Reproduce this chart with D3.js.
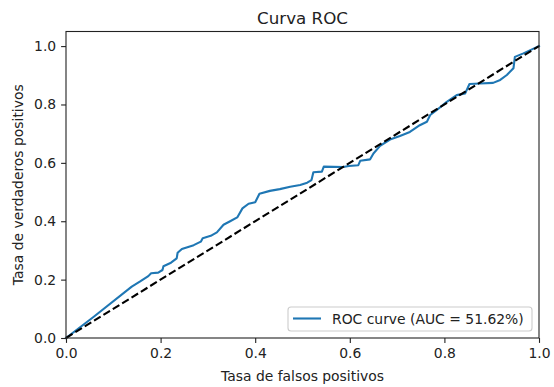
<!DOCTYPE html>
<html>
<head>
<meta charset="utf-8">
<script src="https://cdn.jsdelivr.net/npm/d3@7"></script>
<style>
  html, body { margin: 0; padding: 0; background: #fff; }
  svg { display: block; font-family: "DejaVu Sans", sans-serif; }
</style>
</head>
<body>
<svg id="chart" width="554" height="387"></svg>
<script>
// ROC curve vertices: false positive rate / true positive rate
const fpr = [0, 0.058, 0.139, 0.156, 0.174, 0.180, 0.195, 0.204, 0.206, 0.222, 0.234, 0.236, 0.245, 0.260, 0.270, 0.285, 0.289, 0.306, 0.319, 0.333, 0.347, 0.362, 0.373, 0.386, 0.400, 0.409, 0.431, 0.452, 0.474, 0.495, 0.510, 0.519, 0.523, 0.541, 0.545, 0.586, 0.598, 0.618, 0.622, 0.643, 0.650, 0.664, 0.685, 0.706, 0.727, 0.748, 0.763, 0.770, 0.784, 0.805, 0.826, 0.844, 0.853, 0.875, 0.903, 0.918, 0.932, 0.946, 0.949, 0.967, 1];
const tpr = [0, 0.072, 0.176, 0.193, 0.212, 0.222, 0.224, 0.233, 0.246, 0.258, 0.273, 0.292, 0.305, 0.313, 0.318, 0.330, 0.342, 0.350, 0.362, 0.388, 0.400, 0.413, 0.444, 0.460, 0.465, 0.494, 0.504, 0.510, 0.518, 0.524, 0.532, 0.541, 0.568, 0.570, 0.587, 0.586, 0.589, 0.592, 0.607, 0.612, 0.632, 0.658, 0.680, 0.692, 0.706, 0.729, 0.741, 0.764, 0.781, 0.809, 0.832, 0.838, 0.870, 0.872, 0.874, 0.884, 0.901, 0.924, 0.963, 0.975, 1];
// chance diagonal
const diagX = [0, 1];
const diagY = [0, 1];
const aucPercent = 51.62;
const xTicks = [0, 0.2, 0.4, 0.6, 0.8, 1.0];
const yTicks = [0, 0.2, 0.4, 0.6, 0.8, 1.0];

const svg = d3.select("#chart");
const plotLeft = 66, plotRight = 539, plotTop = 31.5, plotBottom = 338;

const x = d3.scaleLinear().domain([0, 1]).range([plotLeft, plotRight]);
const y = d3.scaleLinear().domain([0, 1.05]).range([plotBottom, plotTop]);

svg.append("rect").attr("width", 554).attr("height", 387).attr("fill", "#fff");

const line = d3.line().x(d => x(d[0])).y(d => y(d[1]));

// ROC curve
svg.append("path")
  .datum(fpr.map((v, i) => [v, tpr[i]]))
  .attr("d", line)
  .attr("fill", "none")
  .attr("stroke", "#1f77b4")
  .attr("stroke-width", 2.1)
  .attr("stroke-linejoin", "round")
  .attr("stroke-linecap", "square");

// random classifier reference
svg.append("path")
  .datum(diagX.map((v, i) => [v, diagY[i]]))
  .attr("d", line)
  .attr("fill", "none")
  .attr("stroke", "#000")
  .attr("stroke-width", 2.1)
  .attr("stroke-dasharray", "7.7,3.3");

// axes
const fmt = d3.format(".1f");
const xAxis = svg.append("g")
  .attr("transform", `translate(0,${plotBottom})`)
  .call(d3.axisBottom(x).tickValues(xTicks).tickFormat(fmt).tickSize(4.9).tickPadding(4.9));
const yAxis = svg.append("g")
  .attr("transform", `translate(${plotLeft},0)`)
  .call(d3.axisLeft(y).tickValues(yTicks).tickFormat(fmt).tickSize(4.9).tickPadding(4.9));

[xAxis, yAxis].forEach(g => {
  g.select(".domain").remove();
  g.selectAll(".tick line").attr("stroke", "#222").attr("stroke-width", 1.1);
  g.selectAll(".tick text")
    .attr("fill", "#222")
    .style("font-family", "DejaVu Sans")
    .style("font-size", "13.9px");
});

// frame
svg.append("rect")
  .attr("x", plotLeft).attr("y", plotTop)
  .attr("width", plotRight - plotLeft).attr("height", plotBottom - plotTop)
  .attr("fill", "none")
  .attr("stroke", "#222")
  .attr("stroke-width", 1.1);

// title and axis labels
svg.append("text")
  .attr("x", (plotLeft + plotRight) / 2).attr("y", 24)
  .attr("text-anchor", "middle")
  .attr("fill", "#222")
  .style("font-size", "16.7px")
  .text("Curva ROC");

svg.append("text")
  .attr("x", (plotLeft + plotRight) / 2).attr("y", 381)
  .attr("text-anchor", "middle")
  .attr("fill", "#222")
  .style("font-size", "13.9px")
  .text("Tasa de falsos positivos");

svg.append("text")
  .attr("transform", `translate(23,${(plotTop + plotBottom) / 2}) rotate(-90)`)
  .attr("text-anchor", "middle")
  .attr("fill", "#222")
  .style("font-size", "13.9px")
  .text("Tasa de verdaderos positivos");

// legend
const lg = svg.append("g");
lg.append("rect")
  .attr("x", 288).attr("y", 307)
  .attr("width", 244).attr("height", 24)
  .attr("rx", 3)
  .attr("fill", "#fff").attr("fill-opacity", 0.8)
  .attr("stroke", "#ccc").attr("stroke-width", 1.1);
lg.append("line")
  .attr("x1", 293).attr("x2", 321).attr("y1", 318.5).attr("y2", 318.5)
  .attr("stroke", "#1f77b4").attr("stroke-width", 2.1);
lg.append("text")
  .attr("x", 332).attr("y", 323.5)
  .attr("fill", "#222")
  .style("font-size", "13.9px")
  .text(`ROC curve (AUC = ${aucPercent.toFixed(2)}%)`);
</script>
</body>
</html>
